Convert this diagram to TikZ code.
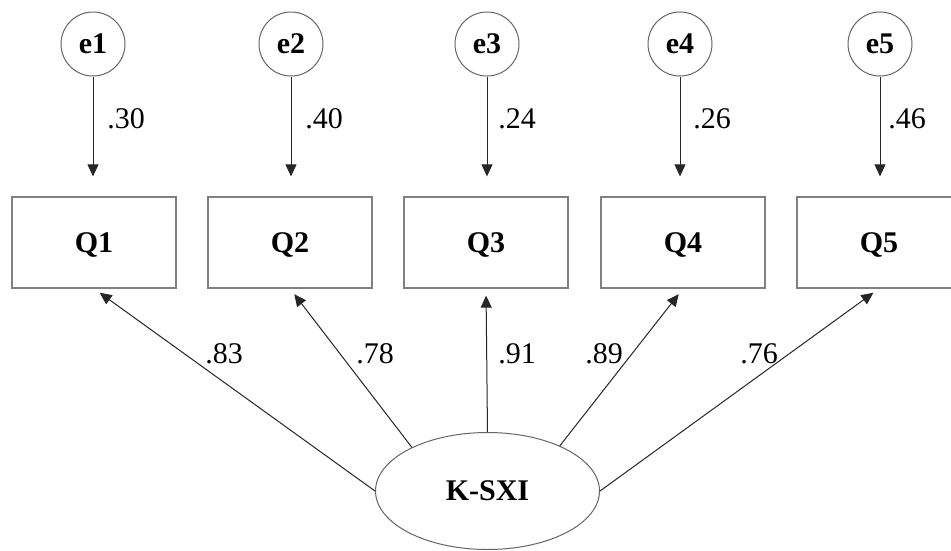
\documentclass[tikz,border=0pt]{standalone}
\usepackage{fontspec}
\setmainfont{Liberation Serif}
\usetikzlibrary{arrows.meta,shapes.geometric}
\begin{document}
\begin{tikzpicture}[x=1pt,y=-1pt,
  txt/.style={font=\fontsize{30}{30}\selectfont},
  errvar/.style={circle,draw=black!60,line width=1pt,minimum size=64pt,inner sep=0pt,
    text depth=0pt,font=\fontsize{30}{30}\selectfont\bfseries},
  itembox/.style={rectangle,draw=black!50,line width=1.3pt,minimum width=164pt,
    minimum height=91pt,inner sep=0pt,text depth=0pt,font=\fontsize{30}{30}\selectfont\bfseries},
  latent/.style={ellipse,draw=black!60,line width=1pt,minimum width=224pt,
    minimum height=117pt,inner sep=0pt,font=\fontsize{30}{30}\selectfont\bfseries},
  regpath/.style={draw=black!85,line width=1pt,-{Triangle[length=12pt,width=11pt]}},
  coef/.style={txt,inner sep=0pt}]
\useasboundingbox (0,0) rectangle (951,550);
\fill[white] (0,0) rectangle (951,550);

% error terms
\node[errvar] (e1) at (93,44)  {e1};
\node[errvar] (e2) at (291,44) {e2};
\node[errvar] (e3) at (487,44) {e3};
\node[errvar] (e4) at (680,44) {e4};
\node[errvar] (e5) at (880,44) {e5};

% observed items
\node[itembox] (Q1) at (94,242.5)  {Q1};
\node[itembox] (Q2) at (290,242.5) {Q2};
\node[itembox] (Q3) at (486,242.5) {Q3};
\node[itembox] (Q4) at (683,242.5) {Q4};
\node[itembox] (Q5) at (879,242.5) {Q5};

% latent factor
\node[latent] (K) at (487.5,491) {K-SXI};

% error paths
\foreach \i in {1,...,5}
  \draw[regpath,shorten >=20pt] (e\i.south) -- (e\i.south |- Q\i.north);

% factor loadings
\draw[regpath,shorten >=7pt] (K.west)  -- (Q1.south);
\draw[regpath,shorten >=7pt] (K.150)   -- (Q2.south);
\draw[regpath,shorten >=7pt] (K.north) -- (Q3.south);
\draw[regpath,shorten >=7pt] (K.32)    -- (Q4.south);
\draw[regpath,shorten >=7pt] (K.east)  -- (Q5.south);

% coefficients
\node[coef] (c1) at (126,119) {.30};
\node[coef] (c2) at (324,119) {.40};
\node[coef] (c3) at (517,119) {.24};
\node[coef] (c4) at (712,119) {.26};
\node[coef] (c5) at (907,119) {.46};

\node[coef] (l1) at (224,354) {.83};
\node[coef] (l2) at (375,354) {.78};
\node[coef] (l3) at (517,354) {.91};
\node[coef] (l4) at (604,354) {.89};
\node[coef] (l5) at (759,354) {.76};
\end{tikzpicture}
\end{document}
